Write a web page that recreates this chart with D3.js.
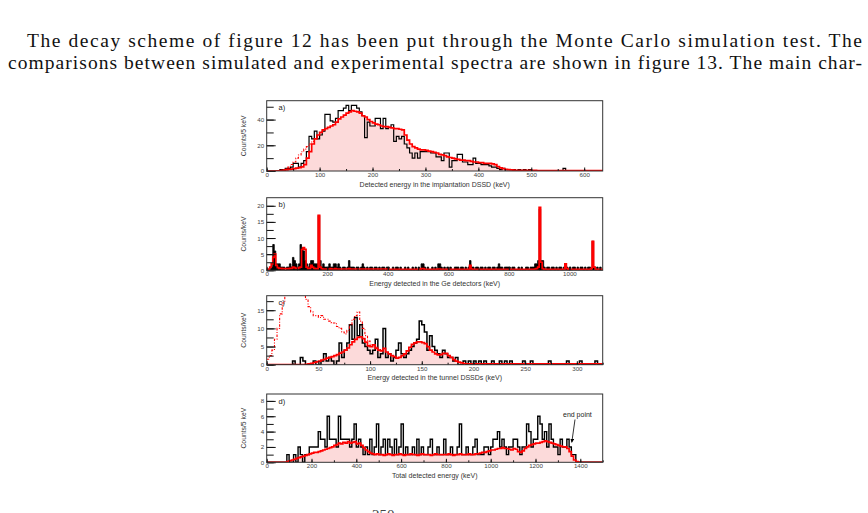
<!DOCTYPE html>
<html>
<head>
<meta charset="utf-8">
<script src="https://cdn.jsdelivr.net/npm/d3@7"></script>
<style>
body { margin: 0; background: #fff; }
svg { display: block; }
</style>
</head>
<body>
<svg id="page" width="868" height="513"></svg>
<script>
// page text
const textLines = [
    "The decay scheme of figure 12 has been put through the Monte Carlo simulation test.  The",
    "comparisons between simulated and experimental spectra are shown in figure 13. The main char-"
]

// a) implantation DSSD, 5 keV bins from 0
const expA = [
    0,0,0,0,0,1,1,2,2,3,
    6,6,3,6,8,15,27,25,31,25,
    28,31,44,44,39,38,41,47,47,49,
    51,47,51,51,49,46,43,26,38,35,
    35,41,41,33,41,33,34,36,23,27,
    25,27,21,18,14,10,14,10,15,15,
    15,15,14,14,11,11,8,14,14,3,
    8,8,13,13,7,7,5,5,10,6,
    6,5,5,5,4,3,3,2,1,2,
    1,1,1,1,0,1,0,1,0,1,
    0,0,0,0,0,0,0,0,0,0,
    0,0,2,0,0,0,0,0,0,0,
    0,0,0,0,0,0,0
]
const simA = [
    0,0,0,0,0.2,0.4,0.6,0.9,1.2,1.5,
    1.8,2.2,2.6,3.2,5,10,15,21,25,28,
    30,32,33,34,35,36,38,40.5,42,43.5,
    45,46,47,46.5,46,45,43,42,40,38.5,
    37.5,36.5,36,35,34.5,34.5,34,33.5,33,33,
    32.5,32,28,24,21,19,18,17,16.5,16.5,
    16,15.5,15,14.5,14,13,12.5,12,11,10.5,
    10,9.5,9,8.5,8.5,8,8,7.5,7,7,
    6.5,6.5,6,6,6,5.5,5,3.5,2.5,1.8,
    1.3,1,0.8,0.7,0.6,0.5,0.5,0.5,0.5,0.5,
    0.5,0.5,0.4,0.4,0.4,0.4,0.4,0.4,0.4,0.4,
    0.4,0.4,0.4,0.4,0.3,0.3,0.3,0.3,0.3,0.3,
    0.3,0.3,0.3,0.3,0.3,0.3,0.3
]
// dashed simulation, 5 keV bins from 20 keV
const dashA = [0.3,0.6,1,2,3,5,7,10,12.5,15,17,19,21,23,25]

// b) Ge detectors, 5 keV bins from 0
const expB = [
    0,0,0.5,1,8,6,2,2,2,1, 1,1,0,1,1,2,1,4,3,2,
    1,2,8,7,6,3,2,1,2,3, 3,2,2,2,17,3,1,2,1,1,
    1,2,1,1,2,2,1,2,1,0, 1,1,0,1,3,1,1,1,0,1,
    1,0,1,2,1,0,1,0,1,1, 0,1,1,0,1,0,1,1,0,1,
    1,0,0,1,0,1,1,0,1,0, 0,1,0,1,0,0,1,0,1,0,
    1,0,2,2,1,0,1,0,0,1, 0,1,0,2,2,1,0,1,0,1,
    0,1,0,0,1,1,1,0,1,1, 0,1,0,1,3,1,1,0,1,1,
    0,1,1,0,1,0,1,1,0,1, 1,0,1,2,1,1,0,1,1,1,
    1,0,1,1,0,0,1,0,1,0, 0,1,1,0,1,1,1,2,2,3,
    19,3,3,1,0,1,1,0,1,1, 0,1,0,1,1,0,1,2,1,0,
    1,0,1,1,0,1,0,1,1,0, 1,0,1,1,0,9,1,0,1,0,
    1,0
]
const simB = [
    0.2,0.4,1,2,4,5,1.5,0.8,0.6,0.6, 0.5,0.5,0.5,0.5,0.5,0.6,0.6,1,0.8,0.6,
    0.6,0.8,1,6.5,7,6.5,1,0.6,0.6,1.5, 1,0.6,0.5,0.5,17,1,0.5,0.4,0.4,0.4,
    0.4,0.4,0.5,0.4,0.4,0.5,0.4,0.4,0.4,0.4, 0.4,0.4,0.4,0.4,0.5,0.4,0.4,0.4,0.4,0.4,
    0.4,0.4,0.4,0.4,0.4,0.4,0.4,0.4,0.4,0.4, 0.4,0.4,0.4,0.4,0.4,0.4,0.4,0.4,0.4,0.4,
    0.3,0.3,0.3,0.3,0.3,0.3,0.3,0.3,0.3,0.3, 0.3,0.3,0.3,0.3,0.3,0.3,0.3,0.3,0.3,0.3,
    0.3,0.3,0.5,0.5,0.3,0.3,0.3,0.3,0.3,0.3, 0.3,0.3,0.3,0.4,0.4,0.3,0.3,0.3,0.3,0.3,
    0.3,0.3,0.3,0.3,0.3,0.3,0.3,0.3,0.3,0.3, 0.3,0.3,0.3,0.3,1.5,0.4,0.3,0.3,0.3,0.3,
    0.3,0.3,0.3,0.3,0.3,0.3,0.3,0.3,0.3,0.3, 0.3,0.3,0.3,0.3,0.3,0.3,0.3,0.3,0.3,0.3,
    0.3,0.3,0.3,0.3,0.3,0.3,0.3,0.3,0.3,0.3, 0.3,0.3,0.3,0.3,0.3,0.3,0.3,0.4,0.5,1,
    19.5,2.5,0.5,0.3,0.3,0.3,0.3,0.3,0.3,0.3, 0.3,0.3,0.3,0.3,0.3,0.3,0.3,2,0.5,0.3,
    0.3,0.3,0.3,0.3,0.3,0.3,0.3,0.3,0.3,0.3, 0.3,0.3,0.3,0.3,0.5,9,1,0.3,0.3,0.3,
    0.3,0.3
]

// c) tunnel DSSDs, 2.5 keV bins from 0
const expC = [
    0,0,0,0,0,0,0,0,0,0,
    1,0,0,2,1,0,0,0,1,0,
    0,1,3,1,2,1,0,1,6,2,
    4,6,11,7,13,8,11,6,5,4,
    3,4,7,2,3,10,2,3,1,2,
    4,6,3,2,3,4,5,6,7,12,
    11,9,4,8,5,4,3,2,4,3,
    2,2,1,2,0,0,1,0,1,0,
    1,0,1,0,1,0,0,1,0,0,
    1,0,1,0,1,0,0,0,0,1,
    0,0,1,0,0,0,0,0,0,1,
    0,0,0,0,0,0,1,0,0,0,
    0,1,0,0,0,0,0,1,0,0
]
const simC = [
    0,0,0,0,0,0,0,0,0,0,
    0,0,0,0,0,0.1,0.2,0.4,0.6,0.8,
    1,1.3,1.5,1.8,2,2.2,2.5,2.8,3.2,3.5,
    4,4.6,5.5,6.3,7,7.5,7.7,7.2,6.2,5.2,
    5,5.5,4.5,4,3.8,4.5,3.5,3,2.5,2.2,
    1.8,2,2.5,3,3.8,4.8,5.6,6,6.3,6.3,
    6.1,5.8,5,4,3.5,3,2.7,2.8,3.1,3.1,
    2.5,2,1.4,1,0.7,0.5,0.3,0.2,0.2,0.2,
    0.2,0.2,0.2,0.2,0.2,0.2,0.2,0.2,0.2,0.2,
    0.2,0.2,0.2,0.2,0.2,0.2,0.2,0.2,0.2,0.2,
    0.2,0.2,0.2,0.2,0.2,0.2,0.2,0.2,0.2,0.2,
    0.2,0.2,0.2,0.2,0.2,0.2,0.2,0.2,0.2,0.2,
    0.2,0.2,0.2,0.2,0.2,0.2,0.2,0.2,0.2,0.2
]
const dashC = [
    1.5,2.5,4,7,10,14,17,21,25,28,
    30,30,28,24,20,18,16,14.5,13.5,13.5,
    13,13.5,12.5,12.5,12,11.5,11.5,10.5,10,9,
    8.5,9.5,11,12.5,13.5,14.5,12,10,8,6.5,
    5.5,5.5,4.8,4.2,4
]

// d) total energy, 10 keV bins from 0
const expD = [
    0,0,0,0,0,0,0,0,0,1, 0,0,1,0,2,1,0,1,1,2,
    2,2,2,4,3,3,2,6,3,3, 3,2,6,3,3,3,3,2,3,5,
    2,3,2,1,2,1,3,1,2,5, 1,2,3,1,3,2,1,3,1,2,
    5,1,2,1,1,2,1,3,1,2, 1,1,2,3,1,1,2,1,1,3,
    1,1,2,1,1,2,5,1,1,2, 1,1,2,3,1,1,1,2,2,1,
    2,3,3,4,2,3,2,1,2,2, 3,3,2,1,2,2,5,4,2,3,
    3,6,5,3,4,2,5,3,2,2, 1,3,2,2,3,2,1,1,0,0,
    0,0,0,0,0,0,0,0,0,0
]
const simD = [
    0,0,0,0,0,0,0,0,0,0.1, 0.2,0.3,0.4,0.5,0.6,0.7,0.8,0.9,1,1.1,
    1.2,1.3,1.3,1.4,1.5,1.6,1.7,1.8,1.9,2, 2.2,2.3,2.5,2.4,2.6,2.5,2.7,2.5,2.6,2.7,
    2.4,2.5,2.2,1.9,1.6,1.4,1.2,1.1,1,1.1, 1,1,0.9,1,1.1,1,0.9,1,1,1.1,
    1,0.9,1,1,1.1,1,1,0.9,1,1.1, 1,1,1,0.9,1,1.1,1,1,1,1,
    1,1.1,1,0.9,1,1,1.1,1,1,1, 1.1,1,1,1.1,1.1,1.2,1.3,1.3,1.4,1.5,
    1.6,1.6,1.7,1.8,1.8,1.9,1.8,1.8,1.7,1.6, 1.8,1.7,1.4,1.3,1.5,1.8,2,2.2,2.3,2.4,
    2.5,2.5,2.6,2.7,2.8,2.7,2.6,2.5,2.4,2.3, 2.2,2.1,2,2,1.8,1.4,0.8,0.3,0.1,0,
    0,0,0,0,0,0,0,0,0,0
]

const panels = [
    { label: "a)", top: 100.7, bottom: 171, xMax: 635, yMax: 54.7, xTicks: [0,100,200,300,400,500,600], xMinor: 50,
      yTicks: [0,20,40], yMinor: 10, yTitle: "Counts/5 keV", xTitle: "Detected energy in the implantation DSSD (keV)",
      exp: expA, sim: simA, dash: dashA, w: 5, dashStart: 20, expWidth: 1.2, expFill: false },
    { label: "b)", top: 197.7, bottom: 270.3, xMax: 1110, yMax: 22.5, xTicks: [0,200,400,600,800,1000], xMinor: 100,
      yTicks: [0,5,10,15,20], yMinor: 2.5, yTitle: "Counts/keV", xTitle: "Energy detected in the Ge detectors (keV)",
      exp: expB, sim: simB, dash: null, w: 5, expWidth: 0.8, expFill: true },
    { label: "c)", top: 295.7, bottom: 364.7, xMax: 325, yMax: 19, xTicks: [0,50,100,150,200,250,300], xMinor: 25,
      yTicks: [0,5,10,15], yMinor: 2.5, yTitle: "Counts/keV", xTitle: "Energy detected in the tunnel DSSDs (keV)",
      exp: expC, sim: simC, dash: dashC, w: 2.5, dashStart: 0, expWidth: 1.5, expFill: false },
    { label: "d)", top: 394, bottom: 462.3, xMax: 1500, yMax: 8.9, xTicks: [0,200,400,600,800,1000,1200,1400], xMinor: 100,
      yTicks: [0,2,4,6,8], yMinor: 1, yTitle: "Counts/5 keV", xTitle: "Total detected energy (keV)",
      exp: expD, sim: simD, dash: null, w: 10, expWidth: 1.4, expFill: false }
]

const plotLeft = 266.7
const plotRight = 602.7
const axisFont = "'Liberation Sans', Arial, Helvetica, sans-serif"

const svg = d3.select("#page")

svg.selectAll("text.body")
    .data(textLines)
    .enter().append("text")
    .attr("class", "body")
    .attr("x", (d, i) => i === 0 ? 27 : 8)
    .attr("y", (d, i) => 47 + i * 22)
    .attr("textLength", (d, i) => i === 0 ? 835 : 854)
    .attr("lengthAdjust", "spacing")
    .attr("font-family", "'Liberation Serif', 'DejaVu Serif', serif")
    .attr("font-size", 19.5)
    .attr("fill", "#111")
    .text(d => d)

// bottom of the page, cut off as in the source
svg.append("text")
    .attr("x", 372)
    .attr("y", 519.5)
    .attr("font-family", "'Liberation Serif', serif")
    .attr("font-size", 15)
    .attr("fill", "#444")
    .text("250")

function stepPoints(vals, start, w) {
    let pts = vals.map((v, i) => [start + i * w, v])
    pts.unshift([start, 0])
    pts.push([start + vals.length * w, vals[vals.length - 1]])
    pts.push([start + vals.length * w, 0])
    return pts
}

panels.forEach((p, k) => {
    const x = d3.scaleLinear().domain([0, p.xMax]).range([plotLeft, plotRight])
    const y = d3.scaleLinear().domain([0, p.yMax]).range([p.bottom, p.top])
    const g = svg.append("g")

    g.append("clipPath").attr("id", "clip" + k)
        .append("rect")
        .attr("x", plotLeft).attr("y", p.top)
        .attr("width", plotRight - plotLeft).attr("height", p.bottom - p.top)

    const plot = g.append("g").attr("clip-path", "url(#clip" + k + ")")

    const area = d3.area().x(d => x(d[0])).y0(y(0)).y1(d => y(d[1])).curve(d3.curveStepAfter)
    const line = d3.line().x(d => x(d[0])).y(d => y(d[1])).curve(d3.curveStepAfter)

    const simPts = stepPoints(p.sim, 0, p.w)
    const expPts = stepPoints(p.exp, 0, p.w)

    plot.append("path")
        .attr("d", area(simPts))
        .attr("fill", "#fcdada")

    if (p.expFill) {
        plot.append("path")
            .attr("d", area(expPts))
            .attr("fill", "#000")
    }

    plot.append("path")
        .attr("d", line(expPts))
        .attr("fill", "none")
        .attr("stroke", "#000")
        .attr("stroke-width", p.expWidth)

    plot.append("path")
        .attr("d", line(simPts))
        .attr("fill", "none")
        .attr("stroke", "#ff0000")
        .attr("stroke-width", 1.7)

    if (p.dash) {
        const dpts = p.dash.map((v, i) => [p.dashStart + i * p.w, v])
        plot.append("path")
            .attr("d", line(dpts))
            .attr("fill", "none")
            .attr("stroke", "#ff0000")
            .attr("stroke-width", 1.1)
            .attr("stroke-dasharray", "2.5,1.5,1,1.5")
    }

    // minor ticks
    const xMinorTicks = d3.range(0, p.xMax + 0.01, p.xMinor)
    g.append("g")
        .attr("transform", "translate(0," + p.bottom + ")")
        .call(d3.axisBottom(x).tickValues(xMinorTicks).tickSize(-2).tickFormat(""))
        .call(s => s.select(".domain").remove())

    g.append("g")
        .attr("transform", "translate(0," + p.bottom + ")")
        .call(d3.axisBottom(x).tickValues(p.xTicks).tickSize(-3.5).tickPadding(1.5).tickFormat(d3.format("d")))
        .call(s => s.select(".domain").remove())
        .call(s => s.selectAll("text").attr("font-size", 6.2).attr("fill", "#444").attr("font-family", axisFont))

    const yMinorTicks = d3.range(0, p.yMax, p.yMinor)
    g.append("g")
        .attr("transform", "translate(" + plotLeft + ",0)")
        .call(d3.axisLeft(y).tickValues(yMinorTicks).tickSize(-7).tickFormat(""))
        .call(s => s.select(".domain").remove())

    g.append("g")
        .attr("transform", "translate(" + plotLeft + ",0)")
        .call(d3.axisLeft(y).tickValues(p.yTicks).tickSize(-9).tickPadding(2.5).tickFormat(d3.format("d")))
        .call(s => s.select(".domain").remove())
        .call(s => s.selectAll("text").attr("font-size", 6.2).attr("fill", "#444").attr("font-family", axisFont))

    g.selectAll(".tick line").attr("stroke", "#111")

    // frame
    g.append("rect")
        .attr("x", plotLeft).attr("y", p.top)
        .attr("width", plotRight - plotLeft).attr("height", p.bottom - p.top)
        .attr("fill", "none")
        .attr("stroke", "#333")
        .attr("stroke-width", 1)

    g.append("text")
        .attr("x", 278.5)
        .attr("y", p.top + 9.5)
        .attr("font-family", axisFont)
        .attr("font-size", 7.5)
        .attr("fill", "#222")
        .text(p.label)

    g.append("text")
        .attr("x", (plotLeft + plotRight) / 2)
        .attr("y", p.bottom + 15.5)
        .attr("text-anchor", "middle")
        .attr("font-family", axisFont)
        .attr("font-size", 7)
        .attr("fill", "#333")
        .text(p.xTitle)

    g.append("text")
        .attr("transform", "translate(245.5," + ((p.top + p.bottom) / 2) + ") rotate(-90)")
        .attr("text-anchor", "middle")
        .attr("font-family", axisFont)
        .attr("font-size", 6.8)
        .attr("fill", "#333")
        .text(p.yTitle)

    if (k === 3) {
        svg.append("defs").append("marker")
            .attr("id", "arrow")
            .attr("viewBox", "0 0 10 10")
            .attr("refX", 9).attr("refY", 5)
            .attr("markerWidth", 5).attr("markerHeight", 5)
            .attr("orient", "auto")
            .append("path").attr("d", "M0,0 L10,5 L0,10 z").attr("fill", "#000")

        g.append("text")
            .attr("x", 563)
            .attr("y", 416.5)
            .attr("font-family", axisFont)
            .attr("font-size", 7)
            .attr("fill", "#222")
            .text("end point")

        g.append("line")
            .attr("x1", 575).attr("y1", 419.5)
            .attr("x2", x(1362)).attr("y2", y(2.6))
            .attr("stroke", "#000")
            .attr("stroke-width", 0.8)
            .attr("marker-end", "url(#arrow)")
    }
})
</script>
</body>
</html>
